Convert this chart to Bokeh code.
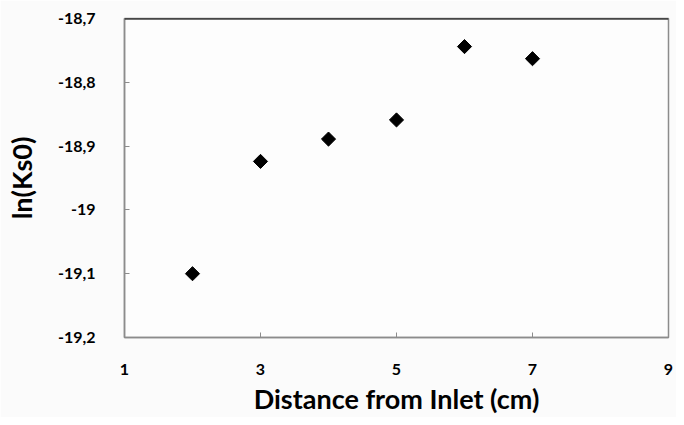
import math
from bokeh.plotting import figure
from bokeh.models import FixedTicker, Range1d, Span
from bokeh.embed import file_html
from bokeh.resources import INLINE

distance = [2, 3, 4, 5, 6, 7]
ln_ks0 = [-19.100, -18.924, -18.889, -18.859, -18.744, -18.763]

x_ticks = [1, 3, 5, 7, 9]
y_ticks = [-19.2, -19.1, -19.0, -18.9, -18.8, -18.7]
y_tick_labels = ["-19,2", "-19,1", "-19", "-18,9", "-18,8", "-18,7"]

FONT = "Lato"

p = figure(width=676, height=417, output_backend="svg", toolbar_location=None,
           x_range=Range1d(1, 9), y_range=Range1d(-19.2, -18.7),
           min_border_left=124, min_border_right=8, min_border_top=18, min_border_bottom=10)

p.background_fill_color = "#fdfdfd"
p.border_fill_color = "#fbfbfb"
p.outline_line_color = "#8c8c8c"
p.outline_line_width = 1.5
p.xgrid.visible = False
p.ygrid.visible = False

p.scatter(distance, ln_ks0, marker="square", angle=math.pi / 4, size=10, color="black")

top = Span(location=p.y_range.end, dimension="width", line_color="black", line_width=2)
p.add_layout(top)

for ax in (p.xaxis[0], p.yaxis[0]):
    ax.axis_line_color = "#8c8c8c"
    ax.axis_line_width = 1.5
    ax.major_tick_line_color = "#8c8c8c"
    ax.major_tick_in = 5
    ax.major_tick_out = 0
    ax.minor_tick_line_color = None
    ax.major_label_text_font = FONT
    ax.major_label_text_font_style = "bold"
    ax.major_label_text_font_size = "16px"
    ax.major_label_text_color = "black"
    ax.axis_label_text_font = FONT
    ax.axis_label_text_font_style = "bold"
    ax.axis_label_text_color = "black"

p.xaxis.axis_label_text_font_size = "27px"
p.yaxis.axis_label_text_font_size = "27px"
p.xaxis.ticker = FixedTicker(ticks=x_ticks)
p.yaxis.ticker = FixedTicker(ticks=y_ticks)
p.yaxis.major_label_overrides = dict(zip(y_ticks, y_tick_labels))
p.xaxis.major_label_standoff = 26
p.yaxis.major_label_standoff = 29
p.xaxis.axis_label_standoff = 4
p.yaxis.axis_label_standoff = 17
p.xaxis.axis_label = "Distance from Inlet (cm)"
p.yaxis.axis_label = "ln(Ks0)"

open("out.html", "w").write(file_html(p, INLINE))
